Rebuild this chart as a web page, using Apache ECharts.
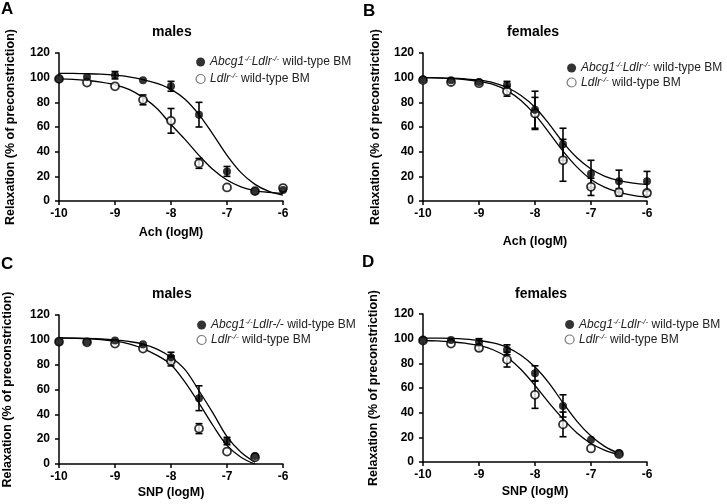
<!DOCTYPE html>
<html><head><meta charset="utf-8">
<script src="https://cdn.jsdelivr.net/npm/echarts@6/dist/echarts.min.js"></script>
<style>html,body{margin:0;padding:0;background:#fff}#c{width:727px;height:504px}</style>
</head><body><div id="c"></div>
<script>
// ---- data ----
const doseAB = [-10, -9.5, -9, -8.5, -8, -7.5, -7, -6.5, -6];
const doseCD = [-10, -9.5, -9, -8.5, -8, -7.5, -7, -6.5];
const fitXAB = [-10, -9.75, -9.5, -9.25, -9, -8.75, -8.5, -8.25, -8, -7.75, -7.5, -7.25, -7, -6.75, -6.5, -6.25, -6];
const fitXCD = [-10, -9.75, -9.5, -9.25, -9, -8.75, -8.5, -8.25, -8, -7.75, -7.5, -7.25, -7, -6.75, -6.5];

// Panel A: males, Ach
const aDkoMean = [99, 100.5, 102, 98, 93, 70, 24, 8, 9];
const aDkoSem  = [0, 0, 3, 0, 4, 10, 4, 0, 0];
const aLdlrMean = [99, 96, 93, 82, 65, 30.5, 11, 8, 10.5];
const aLdlrSem  = [0, 0, 0, 4, 10, 4, 0, 0, 0];
const aDkoFit  = [103.5, 103.4, 103.2, 102.8, 102, 100.7, 98.5, 95.3, 90.5, 82.5, 70, 54, 37, 23, 13.5, 7.8, 4.8];
const aLdlrFit = [99, 98.6, 97.7, 96.3, 94.2, 90.5, 84, 75, 62, 50, 37, 25.5, 17, 11.5, 8.5, 7, 6.2];

// Panel B: females, Ach
const bDkoMean = [98.5, 98, 96.5, 94, 74, 46, 22, 16, 16];
const bDkoSem  = [0, 0, 0, 3, 15, 13, 11, 9, 8];
const bLdlrMean = [98, 96.5, 95.5, 89, 71, 33, 11.5, 7, 6.5];
const bLdlrSem  = [0, 0, 0, 4, 13, 17, 7, 3, 2];
const bDkoFit  = [100, 99.9, 99.6, 99, 98, 96, 92, 85.5, 76, 62.5, 47.5, 35, 26, 20, 16.5, 14.5, 13.5];
const bLdlrFit = [100, 99.8, 99.3, 98.5, 97, 94.5, 89.5, 81.5, 70, 55.5, 40.5, 27.5, 17.5, 11, 7, 4.5, 3];

// Panel C: males, SNP
const cDkoMean = [98.5, 98.5, 99.5, 96.5, 86, 53, 18.5, 6.5];
const cDkoSem  = [0, 0, 0, 0, 4, 10, 3, 0];
const cLdlrMean = [98.5, 98, 97, 93, 83, 28.5, 10, 5.5];
const cLdlrSem  = [0, 0, 0, 0, 4, 4, 0, 0];
const cDkoFit  = [101.5, 101.4, 101.2, 100.8, 100, 98.7, 96.5, 92.5, 86, 76, 59, 41, 22, 9.5, 1.5];
const cLdlrFit = [101.5, 101.3, 101, 100.2, 99, 96.8, 93, 87.5, 80, 66, 49, 31, 15, 5.5, 0];

// Panel D: females, SNP
const dDkoMean = [99, 99, 97, 91, 72, 45.5, 18, 7];
const dDkoSem  = [0, 0, 3, 4, 6, 9, 0, 0];
const dLdlrMean = [98.5, 96, 92.5, 83, 54.5, 30.5, 11, 6.5];
const dLdlrSem  = [0, 0, 2, 6, 11, 10, 0, 0];
const dDkoFit  = [100.5, 100.4, 100.2, 99.6, 98.5, 96.5, 93, 86.5, 77, 64, 48, 33, 21, 12.5, 7];
const dLdlrFit = [98.5, 98.2, 97.5, 96.3, 94.5, 91, 85, 75, 62, 48, 35, 23.5, 15, 9.5, 6];

const panelLetters = ['A', 'B', 'C', 'D'];
const panelTitles = ['males', 'females', 'males', 'females'];
const xAxisNames = ['Ach (logM)', 'Ach (logM)', 'SNP (logM)', 'SNP (logM)'];
const yAxisName = 'Relaxation (% of preconstriction)';
const yTicks = [0, 20, 40, 60, 80, 100, 120];
const xTicks = [-10, -9, -8, -7, -6];
const legendDko = '{i|Abcg1}{s|-/-}{i|Ldlr}{s|-/-}{n| wild-type BM}';
const legendDkoC = '{i|Abcg1}{s|-/-}{i|Ldlr-/-}{n| wild-type BM}';
const legendLdlr = '{i|Ldlr}{s|-/-}{n| wild-type BM}';

// ---- layout ----
const FONT = 'Arial, "Liberation Sans", sans-serif';
const panels = [
  {dose: doseAB, fitX: fitXAB, dm: aDkoMean, ds: aDkoSem, lm: aLdlrMean, ls: aLdlrSem, df: aDkoFit, lf: aLdlrFit,
   grid: {left: 59, width: 224, top: 53, height: 148}, nameGap: 25, yGap: 42,
   title: [152, 25], letter: [1, 1], legend: [195.5, 55], lgap: 4, dkoLabel: legendDko},
  {dose: doseAB, fitX: fitXAB, dm: bDkoMean, ds: bDkoSem, lm: bLdlrMean, ls: bLdlrSem, df: bDkoFit, lf: bLdlrFit,
   grid: {left: 423, width: 224, top: 53, height: 148}, nameGap: 34, yGap: 41,
   title: [507, 25], letter: [363, 2.5], legend: [566.5, 61], lgap: 1.5, dkoLabel: legendDko},
  {dose: doseCD, fitX: fitXCD, dm: cDkoMean, ds: cDkoSem, lm: cLdlrMean, ls: cLdlrSem, df: cDkoFit, lf: cLdlrFit,
   grid: {left: 59, width: 224, top: 315, height: 149}, nameGap: 22, yGap: 45,
   title: [152, 287], letter: [1, 255.5], legend: [196.5, 318], lgap: 2, dkoLabel: legendDkoC},
  {dose: doseCD, fitX: fitXCD, dm: dDkoMean, ds: dDkoSem, lm: dLdlrMean, ls: dLdlrSem, df: dDkoFit, lf: dLdlrFit,
   grid: {left: 423, width: 224, top: 314, height: 148}, nameGap: 23, yGap: 42.5,
   title: [515, 287], letter: [362, 253.5], legend: [564.5, 317.5], lgap: 2, dkoLabel: legendDko}
];

const axisCommon = {
  axisLine: {show: true, lineStyle: {color: '#000', width: 1.5}},
  axisTick: {show: true, length: 4, lineStyle: {color: '#000', width: 1.5}},
  splitLine: {show: false},
  axisLabel: {color: '#000', fontSize: 12, fontWeight: 'bold', fontFamily: FONT},
  nameTextStyle: {color: '#000', fontSize: 12.5, fontWeight: 'bold', fontFamily: FONT}
};

function errRender(params, api) {
  const e = api.value(2);
  if (!e) return {type: 'group', children: []};
  const x = api.value(0), y = api.value(1);
  const t = api.coord([x, y + e]), b = api.coord([x, y - e]);
  const hw = 3.5;
  const st = {stroke: '#000', lineWidth: 1.6};
  return {type: 'group', children: [
    {type: 'line', shape: {x1: t[0], y1: t[1], x2: b[0], y2: b[1]}, style: st},
    {type: 'line', shape: {x1: t[0] - hw, y1: t[1], x2: t[0] + hw, y2: t[1]}, style: st},
    {type: 'line', shape: {x1: b[0] - hw, y1: b[1], x2: b[0] + hw, y2: b[1]}, style: st}
  ]};
}

const grids = [], xAxes = [], yAxes = [], series = [], titles = [], legends = [];
const richStyle = {
  i: {fontStyle: 'italic', fontSize: 12, color: '#222', lineHeight: 14, fontFamily: FONT},
  s: {fontStyle: 'italic', fontSize: 8, color: '#222', lineHeight: 8, verticalAlign: 'top', fontFamily: FONT},
  n: {fontSize: 12, color: '#222', lineHeight: 14, fontFamily: FONT}
};

panels.forEach((p, k) => {
  grids.push(Object.assign({containLabel: false}, p.grid));
  xAxes.push(Object.assign({}, axisCommon, {
    gridIndex: k, type: 'value', min: xTicks[0], max: xTicks[xTicks.length - 1], interval: 1,
    name: xAxisNames[k], nameLocation: 'middle', nameGap: p.nameGap,
    axisLabel: Object.assign({}, axisCommon.axisLabel, {margin: 7})
  }));
  yAxes.push(Object.assign({}, axisCommon, {
    gridIndex: k, type: 'value', min: yTicks[0], max: yTicks[yTicks.length - 1], interval: 20,
    name: yAxisName, nameLocation: 'middle', nameGap: p.yGap,
    axisLabel: Object.assign({}, axisCommon.axisLabel, {margin: 9})
  }));
  const id = panelLetters[k];
  // fitted curves
  [[p.df, 'dko'], [p.lf, 'ldlr']].forEach(([fit, tag]) => {
    series.push({
      name: id + '_' + tag + '_fit', type: 'line', xAxisIndex: k, yAxisIndex: k,
      data: p.fitX.map((x, j) => [x, fit[j]]), showSymbol: false, symbol: 'none',
      smooth: 0.35, lineStyle: {color: '#000', width: 1.3}, z: 2, silent: true
    });
  });
  // error bars
  [[p.dm, p.ds], [p.lm, p.ls]].forEach(([m, s], j) => {
    series.push({
      name: id + '_err' + j, type: 'custom', xAxisIndex: k, yAxisIndex: k,
      data: p.dose.map((x, q) => [x, m[q], s[q]]), renderItem: errRender,
      encode: {x: 0, y: 1}, z: 3, silent: true
    });
  });
  // points
  series.push({
    name: id + '_dko', type: 'scatter', xAxisIndex: k, yAxisIndex: k,
    data: p.dose.map((x, q) => [x, p.dm[q]]), symbol: 'circle', symbolSize: 8,
    itemStyle: {color: '#000'}, z: 5
  });
  series.push({
    name: id + '_ldlr', type: 'scatter', xAxisIndex: k, yAxisIndex: k,
    data: p.dose.map((x, q) => [x, p.lm[q]]), symbol: 'circle', symbolSize: 8,
    itemStyle: {color: '#fff', borderColor: '#000', borderWidth: 1.8}, z: 4
  });
  titles.push({text: panelTitles[k], left: p.title[0], top: p.title[1], padding: 0,
    textStyle: {fontSize: 14, fontWeight: 'bold', color: '#000', fontFamily: FONT}});
  titles.push({text: panelLetters[k], left: p.letter[0], top: p.letter[1], padding: 0,
    textStyle: {fontSize: 17, fontWeight: 'bold', color: '#000', fontFamily: FONT}});
  const dkoLabel = p.dkoLabel;
  legends.push({
    orient: 'vertical', left: p.legend[0], top: p.legend[1], itemWidth: 9, itemHeight: 9,
    itemGap: p.lgap, padding: 0, selectedMode: false,
    data: [
      {name: id + '_dko', icon: 'circle', itemStyle: {color: '#000', borderWidth: 0}},
      {name: id + '_ldlr', icon: 'circle', itemStyle: {color: '#fff', borderColor: '#555', borderWidth: 1.2}}
    ],
    formatter: function (name) { return name.endsWith('_dko') ? dkoLabel : legendLdlr; },
    textStyle: {rich: richStyle, fontSize: 12, color: '#222', fontFamily: FONT}
  });
});

const chart = echarts.init(document.getElementById('c'), null, {renderer: 'canvas'});
chart.setOption({
  animation: false, backgroundColor: '#fff',
  title: titles, legend: legends, grid: grids, xAxis: xAxes, yAxis: yAxes, series: series
});
</script></body></html>
